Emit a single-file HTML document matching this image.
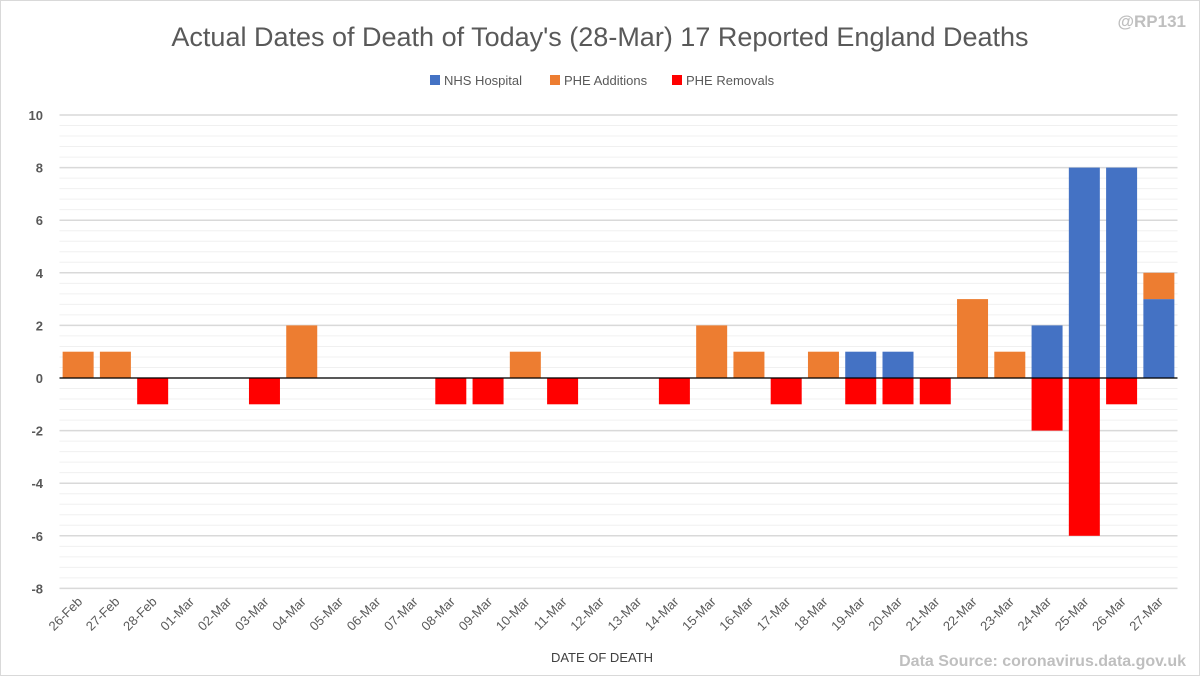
<!DOCTYPE html>
<html><head><meta charset="utf-8"><style>
body{margin:0;background:#fff;}
svg{display:block;font-family:"Liberation Sans",sans-serif;}
</style></head><body>
<svg id="chart" width="1200" height="676">
<rect x="0.5" y="0.5" width="1199" height="675" fill="#fff" stroke="#d9d9d9"/>
<text x="600" y="46" text-anchor="middle" font-size="27" fill="#595959">Actual Dates of Death of Today's (28-Mar) 17 Reported England Deaths</text>
<text x="1186" y="27" text-anchor="end" font-size="17" font-weight="bold" fill="#bfbfbf">@RP131</text>
<g>
<rect x="430" y="75" width="10" height="10" fill="#4472c4"/>
<text x="444" y="85" font-size="13" fill="#595959">NHS Hospital</text>
<rect x="550" y="75" width="10" height="10" fill="#ed7d31"/>
<text x="564" y="85" font-size="13" fill="#595959">PHE Additions</text>
<rect x="672" y="75" width="10" height="10" fill="#ff0000"/>
<text x="686" y="85" font-size="13" fill="#595959">PHE Removals</text>
</g>
<g id="grid"></g><g id="bars"></g><g id="axes"></g>
<text x="602" y="662" text-anchor="middle" font-size="13" fill="#404040">DATE OF DEATH</text>
<text x="1186" y="666" text-anchor="end" font-size="16" font-weight="bold" fill="#bfbfbf">Data Source: coronavirus.data.gov.uk</text>
</svg>
<script>
const categories=["26-Feb","27-Feb","28-Feb","01-Mar","02-Mar","03-Mar","04-Mar","05-Mar","06-Mar","07-Mar","08-Mar","09-Mar","10-Mar","11-Mar","12-Mar","13-Mar","14-Mar","15-Mar","16-Mar","17-Mar","18-Mar","19-Mar","20-Mar","21-Mar","22-Mar","23-Mar","24-Mar","25-Mar","26-Mar","27-Mar"];
const nhs=[0,0,0,0,0,0,0,0,0,0,0,0,0,0,0,0,0,0,0,0,0,1,1,0,0,0,2,8,8,3];
const additions=[1,1,0,0,0,0,2,0,0,0,0,0,1,0,0,0,0,2,1,0,1,0,0,0,3,1,0,0,0,1];
const removals=[0,0,-1,0,0,-1,0,0,0,0,-1,-1,0,-1,0,0,-1,0,0,-1,0,-1,-1,-1,0,0,-2,-6,-1,0];
const yTicks=[10,8,6,4,2,0,-2,-4,-6,-8];
const NS="http://www.w3.org/2000/svg";
const X0=59.5,X1=1177.5,Y10=115,PER=26.3;
const step=(X1-X0)/categories.length;
const xc=i=>X0+step*(i+0.5);
const y=v=>Y10+(10-v)*PER;
function mk(t,a,p){const e=document.createElementNS(NS,t);for(const k in a)e.setAttribute(k,a[k]);p.appendChild(e);return e;}
const grid=document.getElementById('grid'),bars=document.getElementById('bars'),axes=document.getElementById('axes');
for(let v=-8;v<=10.001;v+=0.4){
 const major=Math.abs(v/2-Math.round(v/2))<1e-6;
 const l=mk('line',{x1:X0,x2:X1,y1:y(v),y2:y(v),stroke:major?'#d9d9d9':'#f0f0f0','stroke-width':major?1.5:1},grid);
 
 
}
yTicks.forEach(v=>{
 const t=mk('text',{x:43,y:y(v)+5,'text-anchor':'end','font-size':13,'font-weight':'bold',fill:'#595959'},axes);
 t.textContent=v;
 
 
});
const bw=31;
categories.forEach((c,i)=>{
 let base=0;
 if(nhs[i]>0){const r=mk('rect',{x:xc(i)-bw/2,y:y(nhs[i]),width:bw,height:y(0)-y(nhs[i]),fill:'#4472c4'},bars);
  base=nhs[i];}
 if(additions[i]>0){const top=base+additions[i];const r=mk('rect',{x:xc(i)-bw/2,y:y(top),width:bw,height:y(base)-y(top),fill:'#ed7d31'},bars);
  }
 if(removals[i]<0){const r=mk('rect',{x:xc(i)-bw/2,y:y(0),width:bw,height:y(removals[i])-y(0),fill:'#ff0000'},bars);
  }
 const t=mk('text',{x:0,y:0,'text-anchor':'end','font-size':13,fill:'#595959',transform:`translate(${xc(i)+5},${y(-8)+14}) rotate(-45)`},axes);
 t.textContent=c;
 
 
});
const ax=mk('line',{x1:X0,x2:X1,y1:y(0),y2:y(0),stroke:'#000','stroke-width':1.2},axes);


</script>
</body></html>
